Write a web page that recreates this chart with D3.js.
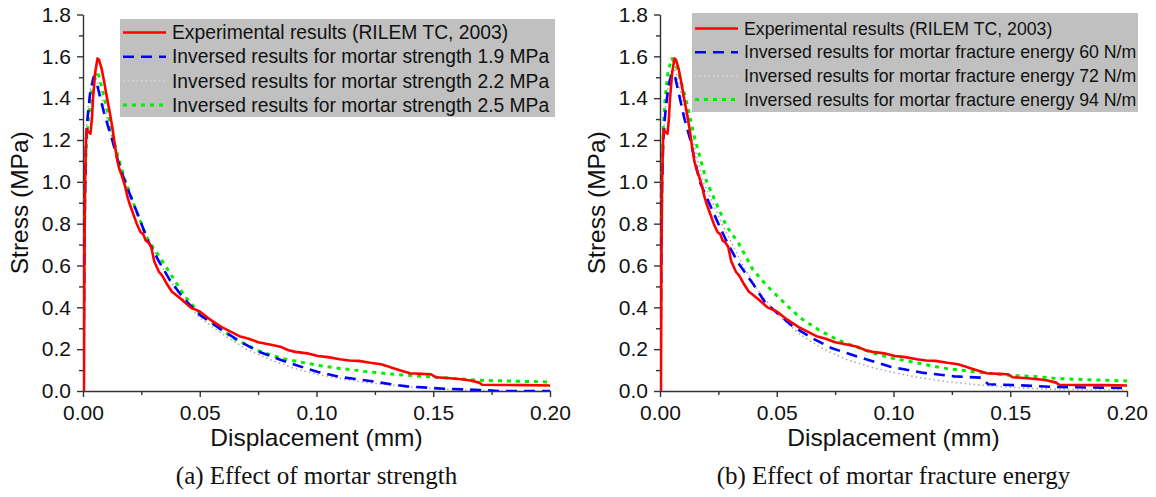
<!DOCTYPE html>
<meta charset="utf-8">
<head>
    <script type="text/javascript" src="https://cdn.jsdelivr.net/npm/d3@7/dist/d3.min.js"></script>
    <style>
        body { margin: 0; background: white; }
        text { font-family: Arial, "Liberation Sans", sans-serif; fill: #111; }
        .caption { font-family: "Times New Roman", "Liberation Serif", serif; }
        .axis path, .axis line { stroke: #333; stroke-width: 1.4; }
        .axis text { font-size: 21px; }
    </style>
    <title>Stress - displacement</title>
</head>
<body>
<div id="chart"></div>
<script>
    var w = 1156, h = 497;

    // experimental curve, same in both panels (x mm, y MPa)
    var experimental = [[0,0],[0.0004,0],[0.0006,0.6],[0.0009,1.0],[0.0013,1.2],[0.0016,1.25],[0.0022,1.24],[0.0032,1.23],
        [0.0038,1.3],[0.0043,1.4],[0.0052,1.52],[0.0062,1.59],[0.0068,1.585],[0.008,1.54],[0.0092,1.47],[0.0103,1.4],
        [0.0115,1.33],[0.0127,1.25],[0.0137,1.17],[0.0147,1.1],[0.0156,1.06],[0.0166,1.03],[0.018,0.98],[0.019,0.93],
        [0.0198,0.9],[0.0214,0.85],[0.023,0.8],[0.0246,0.76],[0.0258,0.75],[0.0268,0.72],[0.028,0.71],[0.0292,0.69],
        [0.0305,0.62],[0.0325,0.57],[0.034,0.55],[0.036,0.51],[0.038,0.476],[0.042,0.44],[0.046,0.40],[0.05,0.38],
        [0.054,0.345],[0.0594,0.305],[0.063,0.285],[0.067,0.262],[0.071,0.25],[0.075,0.233],[0.08,0.222],[0.085,0.21],
        [0.088,0.195],[0.091,0.187],[0.096,0.18],[0.1006,0.167],[0.105,0.162],[0.11,0.152],[0.114,0.146],[0.118,0.144],
        [0.123,0.135],[0.1276,0.128],[0.13,0.12],[0.132,0.112],[0.136,0.098],[0.14,0.085],[0.145,0.082],[0.149,0.08],
        [0.151,0.066],[0.156,0.062],[0.162,0.056],[0.166,0.05],[0.1696,0.04],[0.171,0.03],[0.18,0.029],[0.19,0.028],[0.2,0.026]];

    // (a) mortar strength
    var strength19 = [[0,0],[0.0003,0.3],[0.0008,0.9],[0.0013,1.2],[0.0019,1.3],[0.003,1.42],[0.0045,1.5],[0.0055,1.49],
        [0.007,1.42],[0.009,1.33],[0.0125,1.2],[0.015,1.1],[0.018,1.0],[0.0215,0.9],[0.025,0.8],[0.0277,0.72],[0.0325,0.62],
        [0.0372,0.53],[0.0436,0.436],[0.05,0.364],[0.0594,0.292],[0.0674,0.236],[0.0753,0.188],[0.0848,0.148],[0.0911,0.124],
        [0.1006,0.091],[0.11,0.067],[0.123,0.048],[0.132,0.032],[0.1387,0.022],[0.1545,0.011],[0.17,0.005],[0.178,0],[0.2,0]];
    var strength22 = [[0,0],[0.0003,0.3],[0.0008,0.95],[0.0013,1.22],[0.002,1.33],[0.0032,1.45],[0.005,1.52],[0.0065,1.47],
        [0.009,1.36],[0.0125,1.21],[0.018,1.0],[0.025,0.8],[0.03,0.68],[0.035,0.57],[0.04,0.48],[0.045,0.41],[0.05,0.35],
        [0.06,0.27],[0.07,0.2],[0.08,0.15],[0.09,0.11],[0.1,0.08],[0.11,0.06],[0.12,0.042],[0.13,0.03],[0.14,0.02],
        [0.15,0.012],[0.16,0.006],[0.17,0.002],[0.18,0],[0.2,0]];
    var strength25 = [[0,0],[0.0003,0.3],[0.0008,0.95],[0.0015,1.2],[0.0024,1.3],[0.0035,1.42],[0.0048,1.5],[0.0059,1.53],
        [0.007,1.5],[0.0087,1.42],[0.011,1.31],[0.0127,1.22],[0.015,1.12],[0.018,1.01],[0.0215,0.9],[0.025,0.8],[0.0277,0.725],
        [0.0325,0.645],[0.0372,0.565],[0.0436,0.452],[0.05,0.372],[0.0594,0.292],[0.0658,0.244],[0.0753,0.192],[0.0848,0.156],
        [0.1006,0.123],[0.11,0.108],[0.123,0.091],[0.135,0.078],[0.15,0.067],[0.17,0.051],[0.2,0.043]];

    // (b) mortar fracture energy
    var energy60 = [[0,0],[0.0003,0.3],[0.0008,0.95],[0.0014,1.2],[0.0022,1.32],[0.0035,1.45],[0.005,1.52],[0.0065,1.5],
        [0.0085,1.4],[0.0105,1.3],[0.013,1.2],[0.017,1.0],[0.021,0.9],[0.025,0.8],[0.0288,0.709],[0.0335,0.613],[0.04,0.51],
        [0.0446,0.43],[0.051,0.364],[0.057,0.308],[0.0666,0.244],[0.0737,0.204],[0.087,0.156],[0.099,0.115],[0.112,0.088],
        [0.126,0.07],[0.1375,0.064],[0.1406,0.032],[0.154,0.027],[0.17,0.019],[0.189,0.016],[0.2,0.014]];
    var energy72 = [[0,0],[0.0003,0.3],[0.0008,0.95],[0.0014,1.22],[0.0025,1.38],[0.004,1.5],[0.0055,1.55],[0.007,1.52],
        [0.0095,1.4],[0.0115,1.3],[0.014,1.2],[0.0185,1.0],[0.0225,0.9],[0.0265,0.8],[0.031,0.7],[0.036,0.59],[0.042,0.48],
        [0.05,0.37],[0.06,0.27],[0.07,0.2],[0.08,0.15],[0.09,0.115],[0.1,0.088],[0.11,0.066],[0.12,0.049],[0.13,0.036],
        [0.14,0.026],[0.15,0.018],[0.16,0.012],[0.175,0.007],[0.2,0.003]];
    var energy94 = [[0,0],[0.0003,0.3],[0.0008,1.0],[0.0014,1.25],[0.0022,1.4],[0.0035,1.53],[0.005,1.59],[0.0065,1.57],
        [0.0085,1.5],[0.011,1.4],[0.0146,1.22],[0.02,1.0],[0.024,0.9],[0.028,0.8],[0.0296,0.77],[0.0335,0.71],[0.0398,0.58],
        [0.046,0.5],[0.0556,0.396],[0.0603,0.348],[0.068,0.292],[0.0761,0.244],[0.0855,0.204],[0.0918,0.18],[0.0997,0.156],
        [0.1076,0.14],[0.117,0.119],[0.123,0.107],[0.139,0.087],[0.15,0.075],[0.163,0.067],[0.1706,0.059],[0.2,0.048]];

    var xTicks = [0, 0.05, 0.10, 0.15, 0.20];
    var yTicks = [0, 0.2, 0.4, 0.6, 0.8, 1.0, 1.2, 1.4, 1.6, 1.8];

    var legendA = ["Experimental results (RILEM TC, 2003)",
        "Inversed results for mortar strength 1.9 MPa",
        "Inversed results for mortar strength 2.2 MPa",
        "Inversed results for mortar strength 2.5 MPa"];
    var legendB = ["Experimental results (RILEM TC, 2003)",
        "Inversed results for mortar fracture energy 60 N/m",
        "Inversed results for mortar fracture energy 72 N/m",
        "Inversed results for mortar fracture energy 94 N/m"];

    // line styles: experimental, blue dash, gray dot, green dot
    var STYLES = [
        {color: "#ff0000", width: 2.6, dash: null},
        {color: "#0000ff", width: 2.6, dash: "11,7"},
        {color: "#a9a9bc", width: 1.6, dash: "1.5,3"},
        {color: "#00ee00", width: 3, dash: "4,5"}
    ];

    var svg = d3.select("#chart").append("svg")
        .attr("width", w).attr("height", h);

    function drawPanel(id, left, series, labels, caption, leg) {
        var right = left + 467, top = 14.5, bottom = 391;
        var x = d3.scaleLinear().domain([0, 0.2]).range([left, right]);
        var y = d3.scaleLinear().domain([0, 1.8]).range([bottom, top]);
        var g = svg.append("g");

        g.append("clipPath").attr("id", "clip" + id)
            .append("rect").attr("x", left).attr("y", top - 2)
            .attr("width", right - left + 1).attr("height", bottom - top + 2);

        // minor ticks
        g.append("g").attr("class", "axis")
            .attr("transform", "translate(0," + bottom + ")")
            .call(d3.axisBottom(x).tickValues(d3.range(0.025, 0.2, 0.05)).tickSize(4).tickFormat(""))
            .select(".domain").remove();
        g.append("g").attr("class", "axis")
            .attr("transform", "translate(" + left + ",0)")
            .call(d3.axisLeft(y).tickValues(d3.range(0.1, 1.8, 0.2)).tickSize(4).tickFormat(""))
            .select(".domain").remove();

        // major
        g.append("g").attr("class", "axis")
            .attr("transform", "translate(0," + bottom + ")")
            .call(d3.axisBottom(x).tickValues(xTicks).tickSize(6).tickSizeOuter(0).tickPadding(8).tickFormat(d3.format(".2f")));
        g.append("g").attr("class", "axis")
            .attr("transform", "translate(" + left + ",0)")
            .call(d3.axisLeft(y).tickValues(yTicks).tickSize(6).tickSizeOuter(0).tickPadding(6).tickFormat(d3.format(".1f")));

        var line = d3.line().x(d => x(d[0])).y(d => y(d[1]));
        var lines = g.append("g").attr("clip-path", "url(#clip" + id + ")");
        // draw gray first, then green, blue, red on top
        [2, 3, 1, 0].forEach(function(i) {
            lines.append("path")
                .datum(series[i])
                .attr("d", line)
                .attr("fill", "none")
                .attr("stroke", STYLES[i].color)
                .attr("stroke-width", STYLES[i].width)
                .attr("stroke-dasharray", STYLES[i].dash)
                .attr("stroke-linejoin", "round");
        });

        // axis titles
        g.append("text")
            .attr("transform", "translate(" + (left - 55) + "," + ((top + bottom) / 2) + ") rotate(-90)")
            .attr("text-anchor", "middle")
            .style("font-size", "24.5px")
            .text("Stress (MPa)");
        g.append("text")
            .attr("x", (left + right) / 2).attr("y", 446)
            .attr("text-anchor", "middle")
            .style("font-size", "24.5px")
            .text("Displacement (mm)");
        g.append("text")
            .attr("class", "caption")
            .attr("x", (left + right) / 2).attr("y", 484)
            .attr("text-anchor", "middle")
            .style("font-size", "25px")
            .text(caption);

        // legend
        var lg = g.append("g");
        lg.append("rect")
            .attr("x", leg.x).attr("y", leg.y)
            .attr("width", leg.w).attr("height", leg.h)
            .attr("fill", "#c0c0c0");
        labels.forEach(function(t, i) {
            var cy = leg.row0 + i * leg.step;
            lg.append("line")
                .attr("x1", leg.x + 3).attr("x2", leg.x + 46)
                .attr("y1", cy).attr("y2", cy)
                .attr("stroke", i == 2 ? "#d4d4dc" : STYLES[i].color)
                .attr("stroke-width", STYLES[i].width)
                .attr("stroke-dasharray", STYLES[i].dash);
            lg.append("text")
                .attr("x", leg.x + 52).attr("y", cy)
                .attr("dy", "0.35em")
                .style("font-size", leg.font)
                .text(t);
        });
    }

    drawPanel("a", 83, [experimental, strength19, strength22, strength25], legendA,
        "(a) Effect of mortar strength",
        {x: 120, y: 19, w: 435, h: 98, row0: 32.5, step: 24.2, font: "19.3px"});
    drawPanel("b", 660, [experimental, energy60, energy72, energy94], legendB,
        "(b) Effect of mortar fracture energy",
        {x: 692, y: 13, w: 446, h: 99, row0: 28.5, step: 23.7, font: "17.7px"});
</script>
</body>
</html>
